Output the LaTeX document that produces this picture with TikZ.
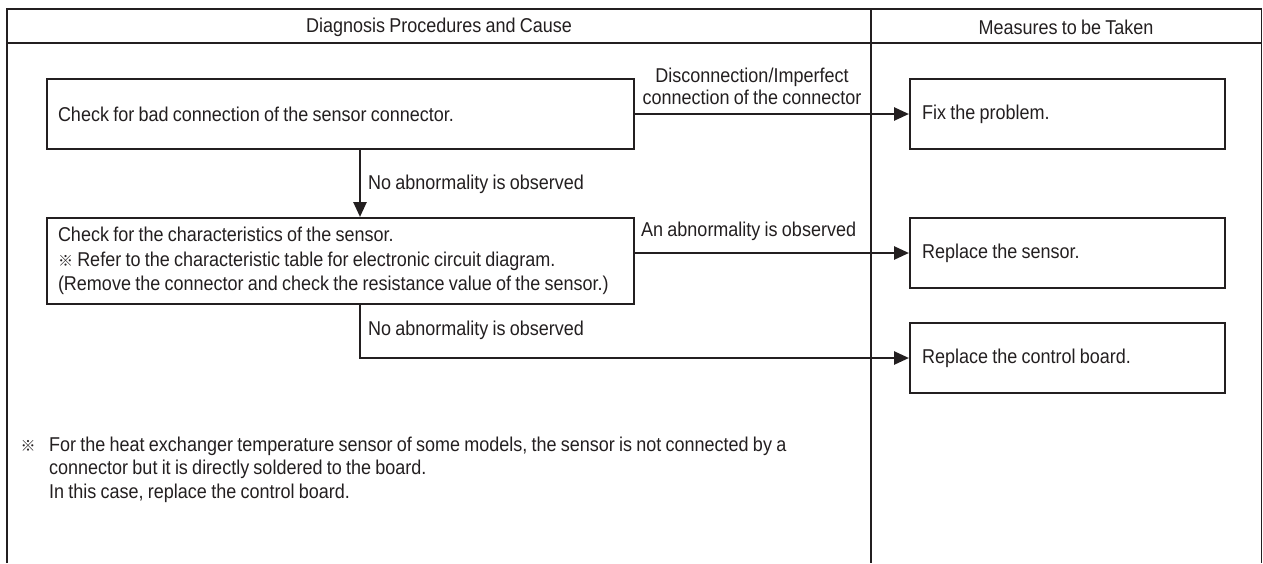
\documentclass[tikz,border=0pt]{standalone}
\usepackage{fontspec}
\setmainfont{Liberation Sans}[FakeStretch=0.9, WordSpace=0.85]
\newfontfamily\cjk{Noto Sans CJK JP}
\usetikzlibrary{arrows.meta}
\definecolor{ink}{HTML}{231F20}
\newcommand{\refmark}{{\cjk\fontsize{15}{15}\selectfont ※}}
\newcommand{\lline}[1]{\makebox[565pt][l]{#1}}
\newcommand{\rline}[1]{\makebox[291pt][l]{#1}}
\tikzset{
  txt/.style={font=\fontsize{20}{24.5}\selectfont, text=ink, inner sep=0pt},
  frameline/.style={draw=ink, line width=1.8pt},
  stepbox/.style={draw=ink, line width=2pt, font=\fontsize{20}{24.5}\selectfont, text=ink,
    align=left, inner ysep=0pt, anchor=north west},
  leftbox/.style={stepbox, minimum width=587pt, inner xsep=11pt},
  rightbox/.style={stepbox, minimum width=315pt, minimum height=70pt, inner xsep=12pt},
  arr/.style={draw=ink, line width=2.6pt, -{Triangle[length=15pt,width=13pt]}}
}
\begin{document}
\begin{tikzpicture}[x=1pt,y=-1pt]
\useasboundingbox (0,0) rectangle (1263,563);
% table frame
\draw[frameline] (7,563) -- (7,9) -- (1261.5,9) -- (1261.5,563);
\draw[frameline] (7,43) -- (1261.5,43);
\draw[frameline] (871,9) -- (871,563);
\node[txt] (h1) at (439,27) {Diagnosis Procedures and Cause};
\node[txt] (h2) at (1066,27) {Measures to be Taken};
% diagnosis boxes
\node[leftbox, minimum height=70pt] (b1) at (46,78) {\lline{Check for bad connection of the sensor connector.}};
\node[leftbox, minimum height=86pt] (b2) at (46,217) {\lline{Check for the characteristics of the sensor.}\\
\lline{\refmark\ Refer to the characteristic table for electronic circuit diagram.}\\
\lline{(Remove the connector and check the resistance value of the sensor.)}};
% measure boxes
\node[rightbox] (fix) at (909,78) {\rline{Fix the problem.}};
\node[rightbox] (sensor) at (909,217) {\rline{Replace the sensor.}};
\node[rightbox] (board) at (909,322) {\rline{Replace the control board.}};
% connectors
\coordinate (vx) at (360,0);
\draw[arr] (b1.east) -- (fix.west);
\draw[arr] (b1.south -| vx) -- (b2.north -| vx);
\draw[arr] (b2.east |- sensor.west) -- (sensor.west);
\draw[arr] (b2.south -| vx) -- (vx |- board.west) -- (board.west);
% labels
\node[txt, align=center, font=\fontsize{20}{22}\selectfont] (l1) at (752,86) {Disconnection/Imperfect\\connection of the connector};
\node[txt, anchor=west] (l2) at (368,184) {No abnormality is observed};
\node[txt, anchor=west] (l3) at (641,231) {An abnormality is observed};
\node[txt, anchor=west] (l4) at (368,330) {No abnormality is observed};
% footnote
\node[txt] (fm) at (28,446) {\refmark};
\node[txt, anchor=west, align=left, font=\fontsize{20}{23.5}\selectfont] (fn) at (49,469.5) {For the heat exchanger temperature sensor of some models, the sensor is not connected by a\\
connector but it is directly soldered to the board.\\
In this case, replace the control board.};
\end{tikzpicture}
\end{document}
